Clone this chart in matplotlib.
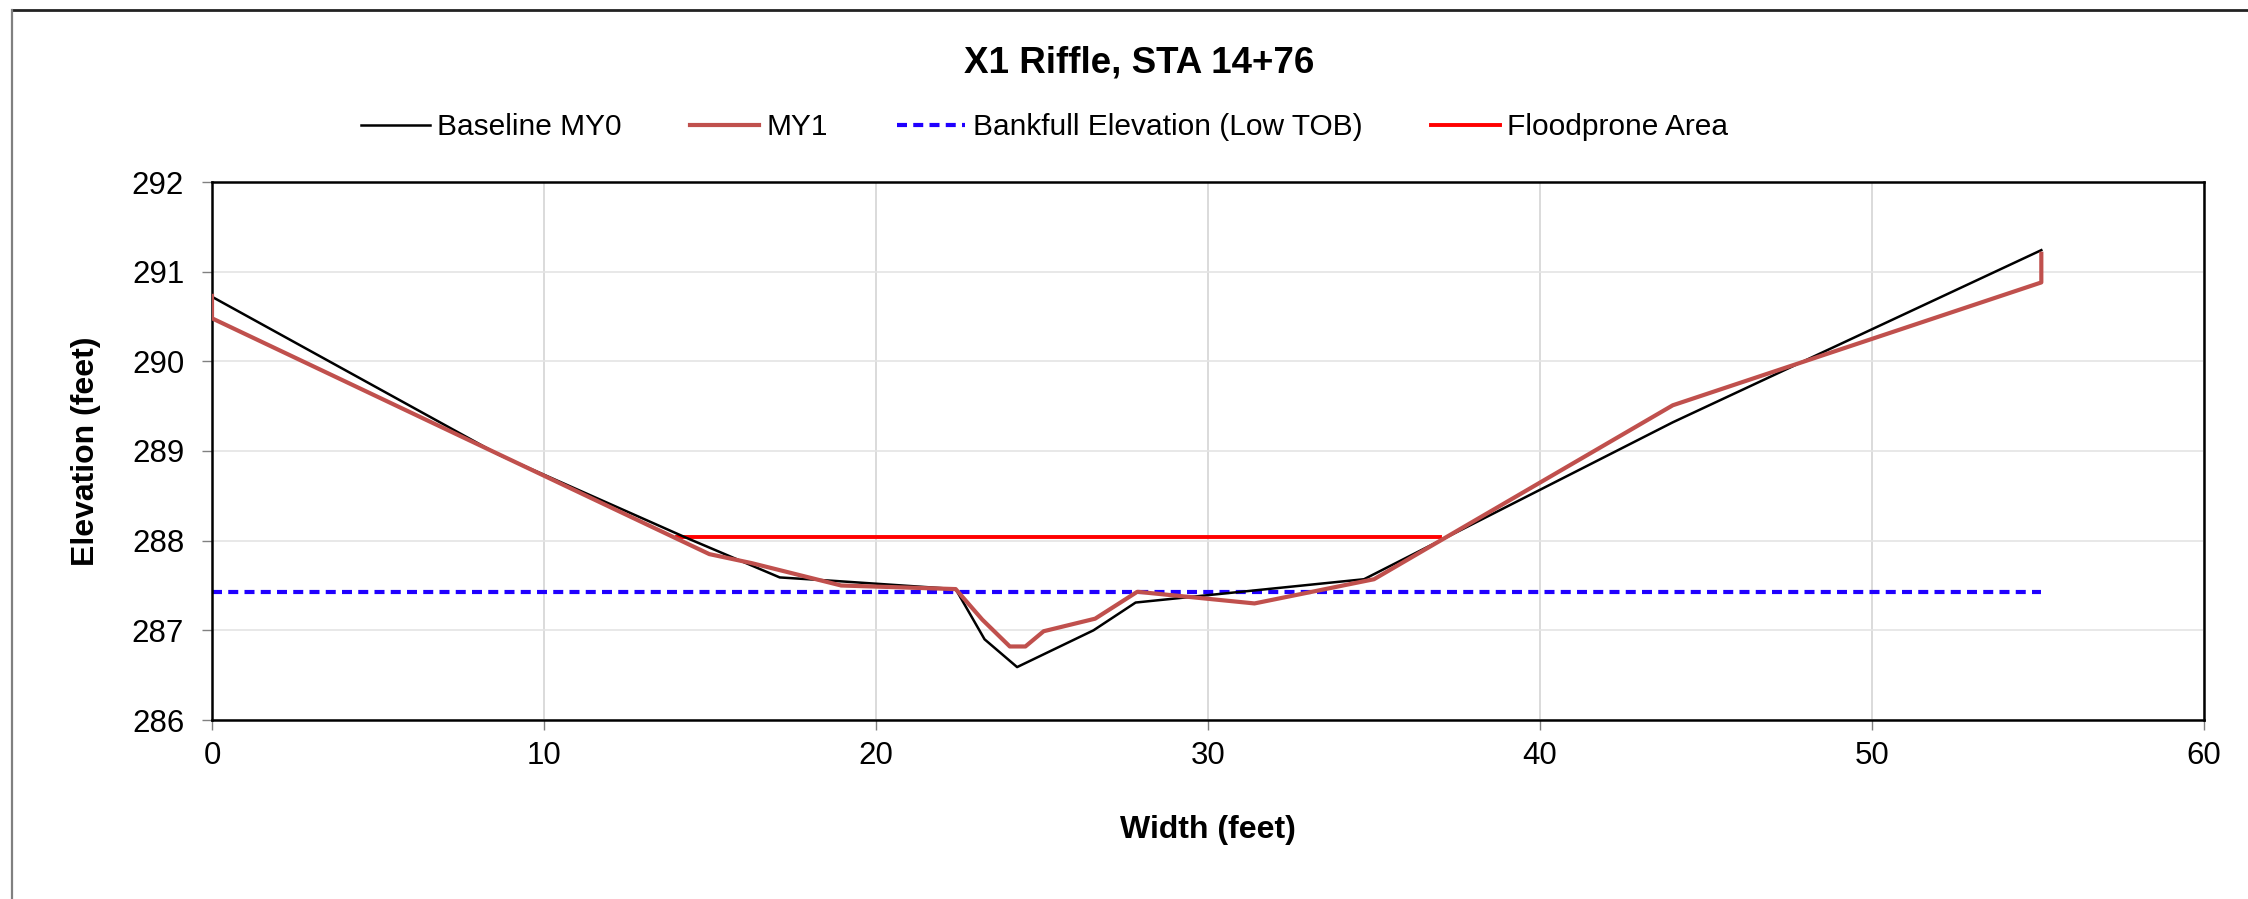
import matplotlib
matplotlib.use("Agg")
import matplotlib.pyplot as plt
from matplotlib.lines import Line2D

plt.rcParams['font.family'] = ['Liberation Sans', 'DejaVu Sans']

# cross section survey, X1 riffle
baseline_x = [0.0, 8.63, 14.3, 17.1, 18.8, 22.4, 23.27, 24.25, 26.55, 27.82, 34.7, 44.0, 55.1]
baseline_y = [290.72, 288.96, 288.03, 287.59, 287.55, 287.46, 286.90, 286.59, 287.00, 287.31, 287.57, 289.32, 291.24]

my1_x = [0.0, 0.0, 14.98, 16.25, 18.95, 22.4, 23.2, 24.03, 24.5, 25.05, 26.6, 27.87, 31.4, 35.0, 44.0, 55.1, 55.1]
my1_y = [290.73, 290.48, 287.85, 287.75, 287.50, 287.46, 287.12, 286.82, 286.82, 286.99, 287.13, 287.43, 287.30, 287.57, 289.51, 290.88, 291.20]

bankfull_x = [0.0, 55.1]
bankfull_y = [287.43, 287.43]

flood_x = [14.0, 37.0]
flood_y = [288.04, 288.04]

x_ticks = [0, 10, 20, 30, 40, 50, 60]
y_ticks = [286, 287, 288, 289, 290, 291, 292]

W, H = 2248, 899
fig = plt.figure(figsize=(W / 100, H / 100), dpi=100)
ax = fig.add_axes([212 / W, 1 - 720 / H, (2204 - 212) / W, (720 - 182) / H])

ax.plot(baseline_x, baseline_y, color="black", lw=1.8, label="Baseline MY0", zorder=3)
ax.plot(my1_x, my1_y, color="#C0504D", lw=3.0, label="MY1", zorder=4)
ax.plot(bankfull_x, bankfull_y, color="#2000FF", lw=3.0, dashes=(2.4, 1.5),
        label="Bankfull Elevation (Low TOB)", zorder=2)
ax.plot(flood_x, flood_y, color="#FF0000", lw=2.8, label="Floodprone Area", zorder=2)

ax.set_xlim(0, 60)
ax.set_ylim(286, 292)
ax.set_xticks(x_ticks)
ax.set_yticks(y_ticks)
ax.xaxis.grid(True, color="#d4d4d4", lw=1.2)
ax.yaxis.grid(True, color="#e4e4e4", lw=1.2)
ax.set_axisbelow(True)
for s in ax.spines.values():
    s.set_linewidth(1.8)
    s.set_color("black")
ax.tick_params(axis="both", direction="out", length=7, width=1, color="#808080",
               labelsize=22.5)
ax.tick_params(axis="x", pad=8)
ax.tick_params(axis="y", pad=13)

ax.set_xlabel("Width (feet)", fontsize=23, fontweight="bold", labelpad=32)
ax.set_ylabel("Elevation (feet)", fontsize=23, fontweight="bold", labelpad=22)

fig.text(1139 / W, 1 - 63 / H, "X1 Riffle, STA 14+76", fontsize=26.5, fontweight="bold",
         ha="center", va="center")

handles, labels = ax.get_legend_handles_labels()
fig.legend(handles, labels, loc="center left", bbox_to_anchor=(361 / W, 1 - 127 / H),
           ncol=4, frameon=False, fontsize=21.5, handlelength=2.3, handletextpad=0.25,
           columnspacing=2.3, borderpad=0, borderaxespad=0)

# chart area border (top and left visible)
fig.add_artist(Line2D([12 / W, 1], [1 - 9.5 / H, 1 - 9.5 / H], color="#222222", lw=2))
fig.add_artist(Line2D([12 / W, 12 / W], [0, 1 - 9.5 / H], color="#808080", lw=1.6))

fig.savefig("out.png", dpi=100)
